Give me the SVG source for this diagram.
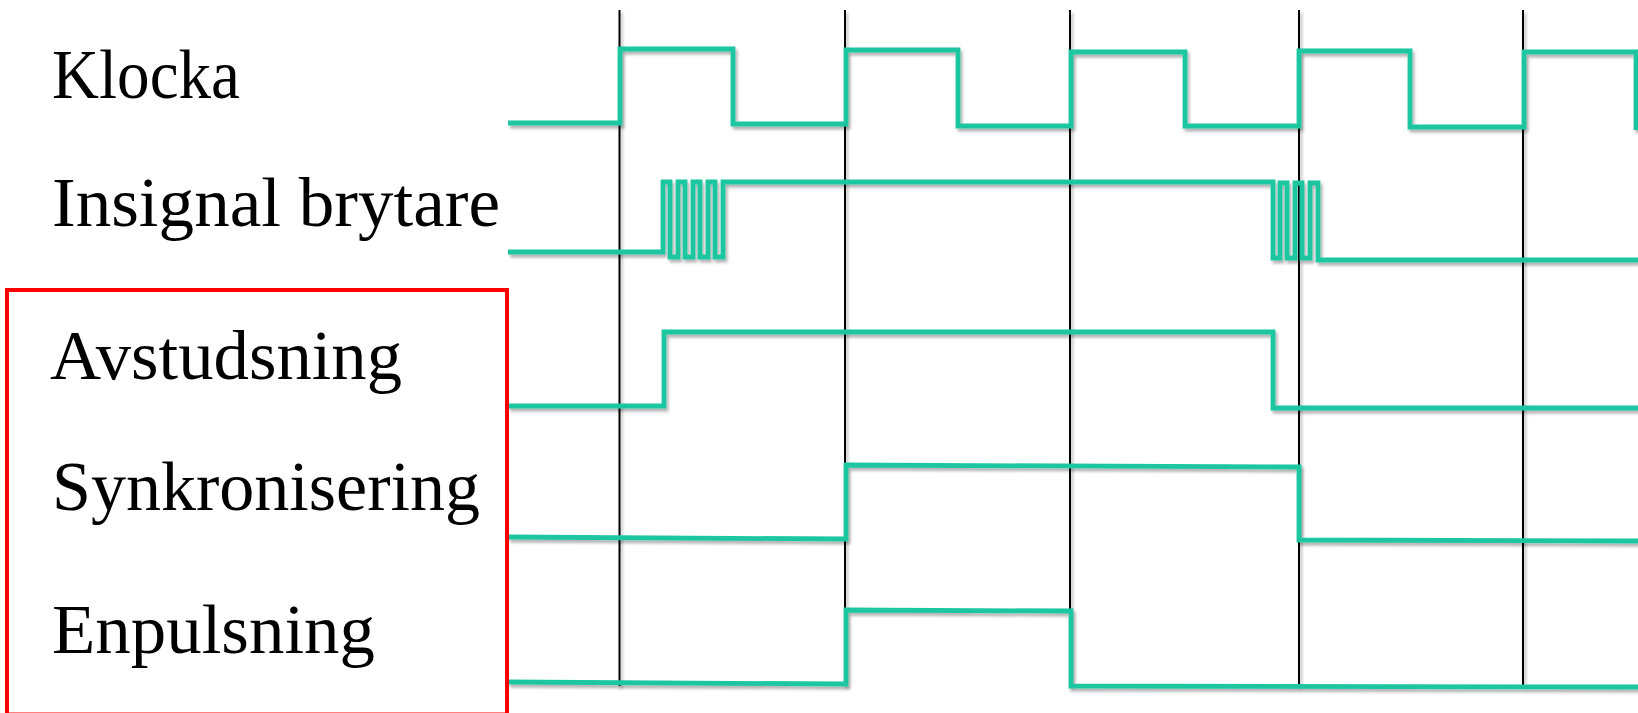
<svg xmlns="http://www.w3.org/2000/svg" width="1638" height="713" viewBox="0 0 1638 713">
  <style>
    .label { font-family: "Liberation Serif", "Times New Roman", serif; font-size: 70px; fill: #000; }
    .wave { fill: none; stroke: #1dc6a1; stroke-width: 4.8; stroke-linejoin: miter; stroke-linecap: butt; }
    .tick { stroke: #000; stroke-width: 2; }
    .frame { fill: none; stroke: #ff0000; stroke-width: 4; }
  </style>
  <defs>
    <filter id="shade" x="-5%" y="-20%" width="110%" height="140%">
      <feDropShadow dx="2" dy="3" stdDeviation="1.6" flood-color="#000" flood-opacity="0.3"/>
    </filter>
  </defs>
  <rect width="1638" height="713" fill="#ffffff"/>

  <!-- clock edge markers -->
  <g id="connectors" filter="url(#shade)">
    <line class="tick" x1="619.5" y1="10" x2="619.5" y2="686"/>
    <line class="tick" x1="845" y1="10" x2="845" y2="686"/>
    <line class="tick" x1="1070" y1="10" x2="1070" y2="686"/>
    <line class="tick" x1="1299" y1="10" x2="1299" y2="686"/>
    <line class="tick" x1="1523" y1="10" x2="1523" y2="686"/>
  </g>

  <!-- signal traces with their names -->
  <g id="klocka">
    <path class="wave" filter="url(#shade)" d="M508,123 H620 V49 H733 V124 H846 V50 H958 V126 H1071 V52 H1185 V126 H1299 V51 H1410 V127 H1524 V52 H1636 V130"/>
    <text class="label" x="52" y="98" textLength="188" lengthAdjust="spacingAndGlyphs">Klocka</text>
  </g>

  <g id="insignal">
    <path class="wave" filter="url(#shade)" d="M508,252 H663 V182 H670 V257 H678 V182 H685 V257 H693 V182 H700 V257 H708 V182 H715 V257 H723 V182 H1273 V258 H1280 V183 H1287 V258 H1295 V183 H1302 V258 H1310 V183 H1318 V260 H1638"/>
    <text class="label" x="52" y="226" textLength="448" lengthAdjust="spacingAndGlyphs">Insignal brytare</text>
  </g>

  <g id="avstudsning">
    <path class="wave" filter="url(#shade)" d="M508,406 H664 V332 H1273 V408 H1638"/>
    <text class="label" x="50" y="379" textLength="352" lengthAdjust="spacingAndGlyphs">Avstudsning</text>
  </g>

  <g id="synkronisering">
    <path class="wave" filter="url(#shade)" d="M508,537 L846,539 V465 L1299,467 V540 L1638,541"/>
    <text class="label" x="52" y="510" textLength="428" lengthAdjust="spacingAndGlyphs">Synkronisering</text>
  </g>

  <g id="enpulsning">
    <path class="wave" filter="url(#shade)" d="M508,682 L846,684 V610 L1071,611 V686 L1638,687"/>
    <text class="label" x="52" y="653" textLength="323" lengthAdjust="spacingAndGlyphs">Enpulsning</text>
  </g>

  <!-- frame around the derived signals -->
  <g id="frame">
    <rect class="frame" x="7" y="290" width="500" height="424.5"/>
  </g>
</svg>
